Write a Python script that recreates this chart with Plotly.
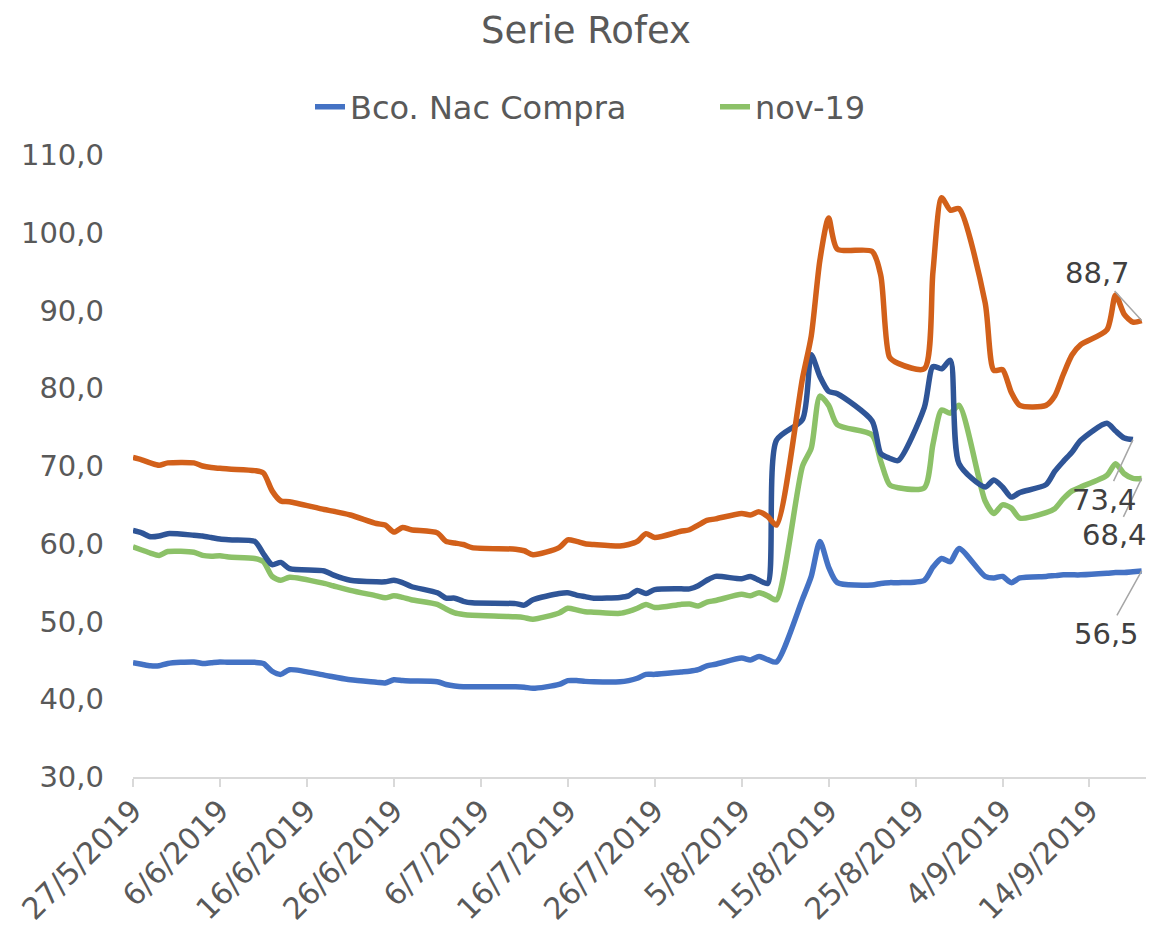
import plotly.graph_objects as go

dates = [
    "2019-05-27", "2019-05-28", "2019-05-29", "2019-05-30", "2019-05-31",
    "2019-06-03", "2019-06-04", "2019-06-05", "2019-06-06", "2019-06-07",
    "2019-06-10", "2019-06-11", "2019-06-12", "2019-06-13", "2019-06-14",
    "2019-06-18", "2019-06-19", "2019-06-21",
    "2019-06-24", "2019-06-25", "2019-06-26", "2019-06-27", "2019-06-28",
    "2019-07-01", "2019-07-02", "2019-07-03", "2019-07-04", "2019-07-05",
    "2019-07-10", "2019-07-11", "2019-07-12",
    "2019-07-15", "2019-07-16", "2019-07-17", "2019-07-18", "2019-07-19",
    "2019-07-22", "2019-07-23", "2019-07-24", "2019-07-25", "2019-07-26",
    "2019-07-29", "2019-07-30", "2019-07-31", "2019-08-01", "2019-08-02",
    "2019-08-05", "2019-08-06", "2019-08-07", "2019-08-08", "2019-08-09",
    "2019-08-12", "2019-08-13", "2019-08-14", "2019-08-15", "2019-08-16",
    "2019-08-20", "2019-08-21", "2019-08-22", "2019-08-23",
    "2019-08-26", "2019-08-27", "2019-08-28", "2019-08-29", "2019-08-30",
    "2019-09-02", "2019-09-03", "2019-09-04", "2019-09-05", "2019-09-06",
    "2019-09-09", "2019-09-10", "2019-09-11", "2019-09-12", "2019-09-13",
    "2019-09-16", "2019-09-17", "2019-09-18", "2019-09-19", "2019-09-20",
]

bco_nac_compra = [
    44.7, 44.5, 44.3, 44.3, 44.6,
    44.8, 44.6, 44.7, 44.8, 44.75,
    44.75, 44.6, 43.6, 43.2, 43.8,
    43.1, 42.9, 42.5,
    42.2, 42.1, 42.5, 42.4, 42.35,
    42.25, 41.9, 41.7, 41.6, 41.6,
    41.6, 41.55, 41.4,
    41.9, 42.4, 42.4, 42.3, 42.25,
    42.25, 42.4, 42.7, 43.2, 43.2,
    43.5, 43.6, 43.8, 44.3, 44.5,
    45.3, 45.05, 45.5, 45.1, 44.8,
    52.9, 55.8, 60.3, 57.0, 55.0,
    54.7, 54.9, 55.0, 55.0,
    55.3, 57.0, 58.1, 57.7, 59.4,
    55.8, 55.6, 55.8, 55.0, 55.6,
    55.8, 55.9, 56.0, 56.0, 56.0,
    56.2, 56.3, 56.3, 56.4, 56.5,
]

nov_19 = [
    59.6, 59.2, 58.8, 58.5, 59.0,
    58.9, 58.5, 58.4, 58.45, 58.3,
    58.1, 57.7, 55.8, 55.3, 55.7,
    54.9, 54.6, 54.0,
    53.3, 53.05, 53.3, 53.1, 52.8,
    52.2, 51.6, 51.1, 50.9, 50.8,
    50.6, 50.5, 50.3,
    51.1, 51.7, 51.5, 51.25, 51.2,
    51.05, 51.3, 51.7, 52.2, 51.8,
    52.2, 52.25, 52.0, 52.5, 52.7,
    53.5, 53.3, 53.7, 53.3, 52.8,
    70.0, 72.3, 79.0, 77.8, 75.3,
    74.0, 70.6, 67.6, 67.2,
    67.2, 72.8, 77.2, 76.8, 77.8,
    65.5, 63.9, 65.0, 64.6, 63.3,
    64.0, 64.5, 65.8, 66.8, 67.3,
    68.8, 70.3, 69.0, 68.4, 68.4,
]

serie_3 = [
    61.7, 61.4, 60.9, 61.0, 61.3,
    61.1, 61.0, 60.8, 60.6, 60.5,
    60.3, 58.7, 57.3, 57.6, 56.8,
    56.5, 56.0, 55.3,
    55.1, 55.1, 55.3, 55.0, 54.5,
    53.7, 53.0, 53.0, 52.6, 52.4,
    52.3, 52.1, 52.8,
    53.6, 53.7, 53.4, 53.2, 53.0,
    53.1, 53.3, 54.0, 53.6, 54.1,
    54.2, 54.2, 54.6, 55.3, 55.8,
    55.5, 55.8, 55.3, 54.9, 73.3,
    76.0, 84.3, 81.5, 79.6, 79.3,
    75.8, 71.6, 71.0, 70.7,
    77.5, 82.8, 82.5, 83.6, 70.3,
    67.3, 68.2, 67.3, 66.0, 66.6,
    67.6, 69.3, 70.6, 71.8, 73.3,
    75.5, 74.5, 73.6, 73.4, None,
]

serie_4 = [
    71.1, 70.8, 70.4, 70.1, 70.4,
    70.4, 70.0, 69.8, 69.7, 69.6,
    69.4, 69.1, 66.8, 65.5, 65.4,
    64.4, 64.2, 63.7,
    62.6, 62.4, 61.5, 62.1, 61.8,
    61.4, 60.3, 60.1, 59.9, 59.5,
    59.3, 59.1, 58.6,
    59.5, 60.5, 60.3, 60.0, 59.9,
    59.7, 59.9, 60.3, 61.3, 60.8,
    61.6, 61.8, 62.4, 63.0, 63.2,
    63.9, 63.7, 64.1, 63.5, 62.4,
    81.3, 86.7, 96.5, 101.9, 97.9,
    97.6, 94.5, 84.0, 83.2,
    82.5, 95.0, 104.5, 102.9, 103.1,
    91.0, 82.3, 82.4, 79.5, 77.8,
    77.8, 79.0, 81.8, 84.3, 85.6,
    87.5, 92.0, 89.5, 88.5, 88.7,
]

tick_dates = ["2019-05-27", "2019-06-06", "2019-06-16", "2019-06-26", "2019-07-06",
              "2019-07-16", "2019-07-26", "2019-08-05", "2019-08-15", "2019-08-25",
              "2019-09-04", "2019-09-14"]
tick_labels = ["27/5/2019", "6/6/2019", "16/6/2019", "26/6/2019", "6/7/2019",
               "16/7/2019", "26/7/2019", "5/8/2019", "15/8/2019", "25/8/2019",
               "4/9/2019", "14/9/2019"]

FONT = "DejaVu Sans"
TXT = "#595959"

series = [
    ("Bco. Nac Compra", bco_nac_compra, "#4472C4", True),
    ("nov-19", nov_19, "#8CC168", True),
    ("Serie 3", serie_3, "#2F5597", False),
    ("Serie 4", serie_4, "#D2601A", False),
]

fig = go.Figure()
for name, vals, color, show in series:
    fig.add_trace(go.Scatter(
        x=dates, y=vals, name=name, mode="lines", showlegend=show,
        line=dict(color=color, width=5.5, shape="spline", smoothing=0.7),
        connectgaps=False,
    ))

# end labels
label_offsets = {"Serie 4": (-44, -48), "Serie 3": (-28, 60), "nov-19": (-27, 57), "Bco. Nac Compra": (-35, 63)}
for name, vals, color, show in series:
    idx = max(i for i, v in enumerate(vals) if v is not None)
    ax, ay = label_offsets[name]
    fig.add_annotation(
        x=dates[idx], y=vals[idx], text=f"{vals[idx]:.1f}".replace(".", ","),
        showarrow=True, arrowhead=0, arrowwidth=1.5, arrowcolor="#A6A6A6",
        ax=ax, ay=ay, standoff=0, font=dict(family=FONT, size=29, color="#404040"),
    )

fig.update_layout(
    width=1156, height=938,
    paper_bgcolor="white", plot_bgcolor="white",
    margin=dict(l=125, r=18, t=147, b=169, autoexpand=False),
    separators=",.",
    title=dict(text="Serie Rofex", x=0.5, xanchor="center", y=1 - 22 / 938, yanchor="middle",
               yref="container", font=dict(family=FONT, size=37, color=TXT)),
    legend=dict(orientation="h", x=177 / 1013, xanchor="left", xref="paper",
                y=1 + 48 / 622, yanchor="middle",
                font=dict(family=FONT, size=32, color=TXT),
                entrywidth=360, entrywidthmode="pixels"),
    font=dict(family=FONT, color=TXT),
)
fig.update_xaxes(
    type="date", range=["2019-05-27", "2019-09-20 12:00"], automargin=False,
    tickvals=tick_dates, ticktext=tick_labels, tickangle=-45,
    tickfont=dict(family=FONT, size=30, color=TXT), ticklabeloverflow="allow",
    showline=True, linecolor="#D9D9D9", linewidth=2,
    ticks="outside", ticklen=8, tickcolor="#D9D9D9", tickwidth=2,
    showgrid=False, zeroline=False, ticklabelstandoff=-6,
)
fig.update_yaxes(
    range=[30, 110], dtick=10, tick0=30, tickformat=".1f", automargin=False,
    tickfont=dict(family=FONT, size=29, color=TXT),
    showgrid=False, zeroline=False, showline=False, ticks="", ticklabelstandoff=28,
)

fig.write_html("out.html")
